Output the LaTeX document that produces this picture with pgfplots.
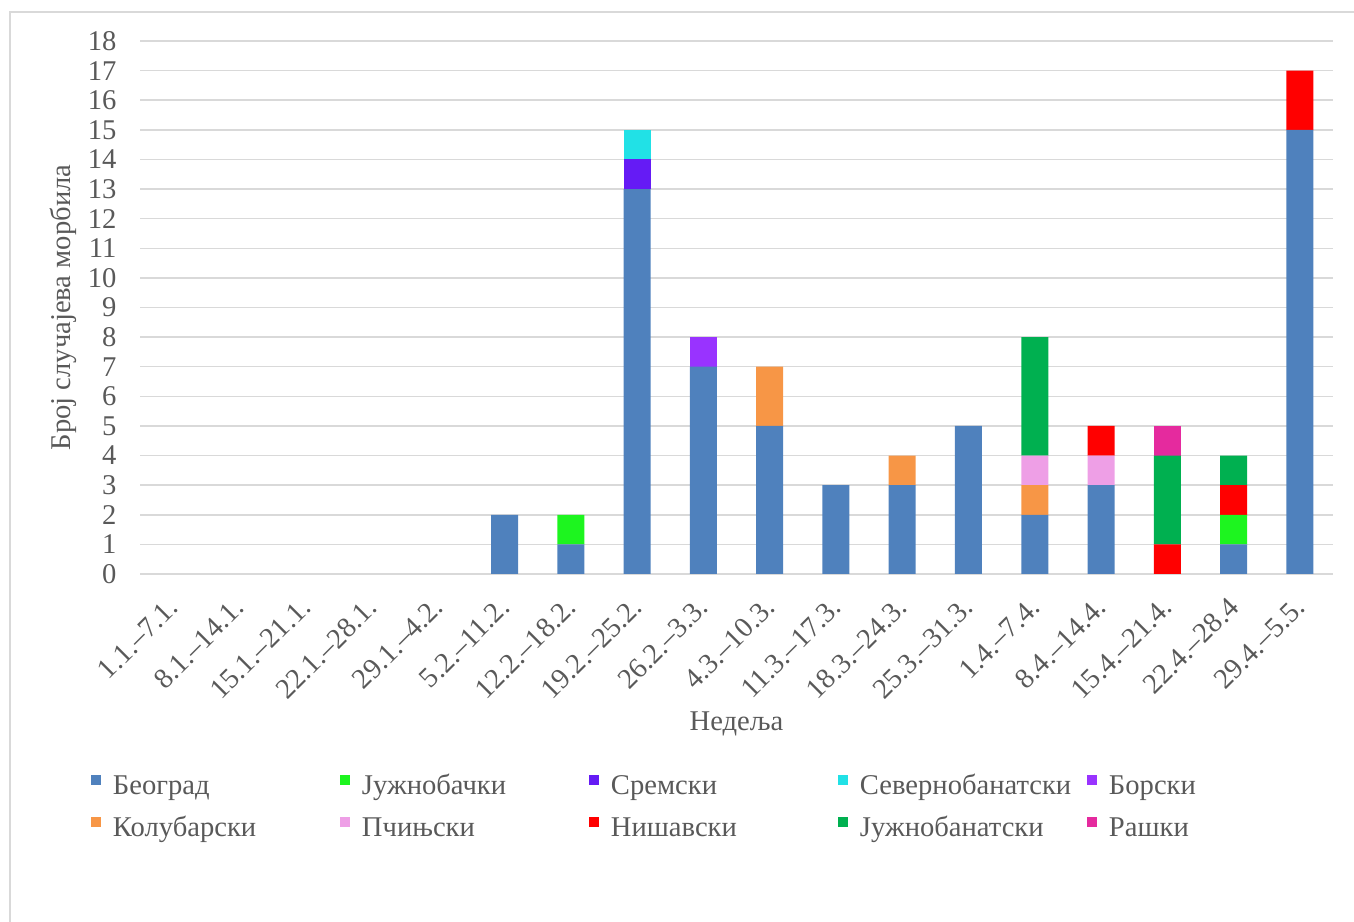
\documentclass[border=0pt]{standalone}
\usepackage{fontspec}
\setmainfont{Liberation Serif}
\usepackage{pgfplots}
\usepackage{pgfplotstable}
\pgfplotsset{compat=1.18}

\definecolor{cBeo}{HTML}{4F81BD}
\definecolor{cJBac}{HTML}{1DF51F}
\definecolor{cSrem}{HTML}{651BF5}
\definecolor{cSevB}{HTML}{21E1E6}
\definecolor{cBor}{HTML}{9933FF}
\definecolor{cKol}{HTML}{F79646}
\definecolor{cPci}{HTML}{EE9FE6}
\definecolor{cNis}{HTML}{FF0000}
\definecolor{cJBan}{HTML}{00B050}
\definecolor{cRas}{HTML}{E52A9E}
\definecolor{txt}{HTML}{595959}
\definecolor{gridc}{HTML}{D9D9D9}

% weekly cases by district (stack order bottom -> top)
\pgfplotstableread{
x  B  JBac Srem SevB Bor Kol Pci Nis JBan Ras
0  0  0    0    0    0   0   0   0   0    0
1  0  0    0    0    0   0   0   0   0    0
2  0  0    0    0    0   0   0   0   0    0
3  0  0    0    0    0   0   0   0   0    0
4  0  0    0    0    0   0   0   0   0    0
5  2  0    0    0    0   0   0   0   0    0
6  1  1    0    0    0   0   0   0   0    0
7  13 0    1    1    0   0   0   0   0    0
8  7  0    0    0    1   0   0   0   0    0
9  5  0    0    0    0   2   0   0   0    0
10 3  0    0    0    0   0   0   0   0    0
11 3  0    0    0    0   1   0   0   0    0
12 5  0    0    0    0   0   0   0   0    0
13 2  0    0    0    0   1   1   0   4    0
14 3  0    0    0    0   0   1   1   0    0
15 0  0    0    0    0   0   0   1   3    1
16 1  1    0    0    0   0   0   1   1    0
17 15 0    0    0    0   0   0   2   0    0
}\casedata

\newcommand{\legtext}[1]{\makebox[113.5pt][l]{#1}}

\begin{document}
\begin{tikzpicture}[font=\fontsize{14.3}{17}\selectfont]
\useasboundingbox (0,0) rectangle (677pt,460.5pt);
\draw[gridc, line width=1pt] (5pt,-20pt) -- (5pt,454.5pt) -- (700pt,454.5pt);
\begin{axis}[
    at={(70pt,173.5pt)}, anchor=south west,
    scale only axis, width=596.5pt, height=266.5pt,
    ybar stacked, bar width=13.5pt,
    xmin=-0.5, xmax=17.5, ymin=0, ymax=18,
    xtick={0,...,17},
    xticklabels={1.1.–7.1., 8.1.–14.1., 15.1.–21.1., 22.1.–28.1., 29.1.–4.2.,
        5.2.–11.2., 12.2.–18.2., 19.2.–25.2., 26.2.–3.3., 4.3.–10.3.,
        11.3.–17.3., 18.3.–24.3., 25.3.–31.3., 1.4.–7.4., 8.4.–14.4.,
        15.4.–21.4., 22.4.–28.4, 29.4.–5.5.},
    ytick={0,...,18},
    major tick length=0pt,
    axis line style={draw=none},
    ymajorgrids, grid style={gridc, line width=0.75pt},
    /pgf/number format/assume math mode=true,
    tick label style={text=txt},
    xticklabel style={xshift=2.5pt, rotate=45, anchor=east},
    xticklabel shift=12pt,
    yticklabel shift=8.2pt,
    ylabel={Број случајева морбила},
    xlabel={Недеља},
    label style={text=txt},
    ylabel style={at={(axis description cs:-0.0645,0.5)}, anchor=center},
    xlabel style={at={(axis description cs:0.5,-0.2814)}, anchor=center},
    legend columns=5,
    legend cell align=left,
    legend style={at={(axis description cs:-0.04107,-0.3771)}, anchor=north west,
        draw=none, fill=none, inner sep=0pt, outer sep=0pt,
        row sep=7.5pt, column sep=0pt,
        nodes={inner sep=0pt, text height=10pt, text depth=3.5pt, text=txt},
        /tikz/every odd column/.append style={column sep=6pt}},
    legend image code/.code={\fill[#1] (0pt,1.5pt) rectangle (5pt,6.5pt);},
]
\addplot[fill=cBeo, draw=none] table[x=x, y=B] {\casedata};
\addlegendentry{\legtext{Београд}}
\addplot[fill=cJBac, draw=none] table[x=x, y=JBac] {\casedata};
\addlegendentry{\legtext{Јужнобачки}}
\addplot[fill=cSrem, draw=none] table[x=x, y=Srem] {\casedata};
\addlegendentry{\legtext{Сремски}}
\addplot[fill=cSevB, draw=none] table[x=x, y=SevB] {\casedata};
\addlegendentry{\legtext{Севернобанатски}}
\addplot[fill=cBor, draw=none] table[x=x, y=Bor] {\casedata};
\addlegendentry{\legtext{Борски}}
\addplot[fill=cKol, draw=none] table[x=x, y=Kol] {\casedata};
\addlegendentry{\legtext{Колубарски}}
\addplot[fill=cPci, draw=none] table[x=x, y=Pci] {\casedata};
\addlegendentry{\legtext{Пчињски}}
\addplot[fill=cNis, draw=none] table[x=x, y=Nis] {\casedata};
\addlegendentry{\legtext{Нишавски}}
\addplot[fill=cJBan, draw=none] table[x=x, y=JBan] {\casedata};
\addlegendentry{\legtext{Јужнобанатски}}
\addplot[fill=cRas, draw=none] table[x=x, y=Ras] {\casedata};
\addlegendentry{\legtext{Рашки}}
\end{axis}
\end{tikzpicture}
\end{document}
